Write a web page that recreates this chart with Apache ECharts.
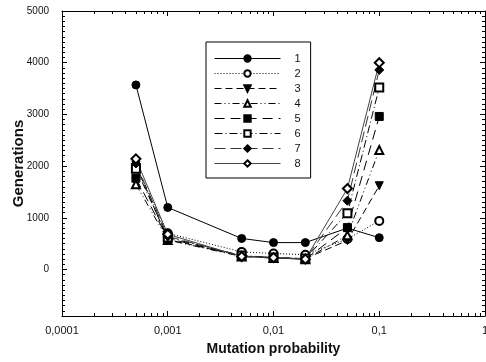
<!DOCTYPE html>
<html lang="en">
<head>
<meta charset="UTF-8">
<title>Generations vs mutation probability</title>
<script src="https://cdn.jsdelivr.net/npm/echarts@6/dist/echarts.js"></script>
<style>
  html, body { margin: 0; padding: 0; background: #fff; }
  #chart { width: 486px; height: 362px; }
</style>
</head>
<body>
<div id="chart"></div>
<script>
// mutation probabilities (x) and generations per run
const probs = [0.0005, 0.001, 0.005, 0.01, 0.02, 0.05, 0.1];
const s1 = [3570, 1200, 600, 520, 520, 800, 615];
const s2 = [2000, 700, 340, 310, 285, 590, 940];
const s3 = [2020, 580, 260, 230, 210, 560, 1620];
const s4 = [1650, 570, 250, 220, 200, 660, 2310];
const s5 = [1765, 600, 260, 220, 200, 810, 2960];
const s6 = [1950, 620, 270, 230, 210, 1090, 3520];
const s7 = [2050, 640, 260, 230, 200, 1330, 3860];
const s8 = [2140, 680, 250, 230, 200, 1565, 4000];

const names = ['1', '2', '3', '4', '5', '6', '7', '8'];
const yLabels = [0, 1000, 2000, 3000, 4000, 5000];
const xMajor = [0.0001, 0.001, 0.01, 0.1, 1];

// minor ticks: 2..9 in every decade, every 100 on y
const xMinor = [];
[0.0001, 0.001, 0.01, 0.1].forEach(d => {
  for (let k = 2; k <= 9; k++) xMinor.push(+(d * k).toPrecision(4));
});
const yMinor = [];
for (let v = -900; v <= 5000; v += 100) yMinor.push(v);

const allSeries = [s1, s2, s3, s4, s5, s6, s7, s8];
const symbols = ['circle', 'emptyCircle', 'triangle', 'emptyTriangle', 'rect', 'emptyRect', 'diamond', 'emptyDiamond'];
const dashes = ['solid', [1, 2], [7, 4], [7, 3, 1, 3, 1, 3], [10, 6], [8, 3, 1, 3], [11, 5], 'solid'];
const colors = ['#000', '#000', '#000', '#000', '#000', '#000', '#333', '#444'];

const chart = echarts.init(document.getElementById('chart'));

const fmtX = v => String(+(+v).toPrecision(6)).replace('.', ',');

function xAx(pos, major, showLabel) {
  return {
    type: 'log', logBase: 10, min: 0.0001, max: 1, position: pos,
    axisLine: { show: major, onZero: false, lineStyle: { color: '#000', width: 1 } },
    axisTick: { show: true, inside: true, length: major ? 5 : 3,
      customValues: major ? xMajor : xMinor, lineStyle: { color: '#000' } },
    axisLabel: { show: showLabel, customValues: xMajor, formatter: fmtX,
      color: '#111', fontSize: 11, fontFamily: 'Liberation Sans', margin: 9 },
    splitLine: { show: false },
    name: showLabel ? 'Mutation probability' : '',
    nameLocation: 'middle', nameGap: 26, nameMoveOverlap: false,
    nameTextStyle: { fontSize: 14, fontWeight: 'bold', color: '#111', fontFamily: 'Liberation Sans' }
  };
}
function yAx(pos, major, showLabel) {
  return {
    type: 'value', min: -900, max: 5000, position: pos,
    axisLine: { show: major, onZero: false, lineStyle: { color: '#000', width: 1 } },
    axisTick: { show: true, inside: true, length: major ? 5 : 3,
      customValues: major ? yLabels : yMinor, lineStyle: { color: '#000' } },
    axisLabel: { show: showLabel, customValues: yLabels, formatter: v => String(v),
      color: '#111', fontSize: 10, fontFamily: 'Liberation Sans', margin: 13 },
    splitLine: { show: false },
    name: showLabel ? 'Generations' : '',
    nameLocation: 'middle', nameGap: 36, nameRotate: 90, nameMoveOverlap: false,
    nameTextStyle: { fontSize: 15, fontWeight: 'bold', color: '#111', fontFamily: 'Liberation Sans' }
  };
}

const option = {
  animation: false,
  backgroundColor: '#fff',
  grid: { left: 62, right: 1, top: 11, bottom: 46, containLabel: false, outerBoundsMode: 'none' },
  legend: {
    orient: 'vertical', left: 206, top: 42,
    padding: [11, 10, 9, 8],
    itemWidth: 66, itemHeight: 8, itemGap: 4,
    borderColor: '#000', borderWidth: 1,
    lineStyle: { width: 1 },
    textStyle: { fontSize: 11, color: '#111', fontFamily: 'Liberation Sans', lineHeight: 10, padding: [0, 0, 0, 9] },
    data: names.map((n, i) => i === 2 ? { name: n, symbolRotate: 180 } : n)
  },
  xAxis: [xAx('bottom', true, true), xAx('bottom', false, false), xAx('top', true, false), xAx('top', false, false)],
  yAxis: [yAx('left', true, true), yAx('left', false, false), yAx('right', true, false), yAx('right', false, false)],
  series: allSeries.map((vals, i) => ({
    name: names[i],
    type: 'line',
    xAxisIndex: 0, yAxisIndex: 0,
    data: probs.map((p, j) => [p, vals[j]]),
    symbol: symbols[i],
    symbolSize: i >= 6 ? 9 : 8,
    symbolRotate: i === 2 ? 180 : 0,
    showAllSymbol: true,
    lineStyle: { color: colors[i], width: 1, type: dashes[i] },
    itemStyle: { color: '#000', borderColor: '#000', borderWidth: 1 }
  }))
};

chart.setOption(option);
</script>
</body>
</html>
